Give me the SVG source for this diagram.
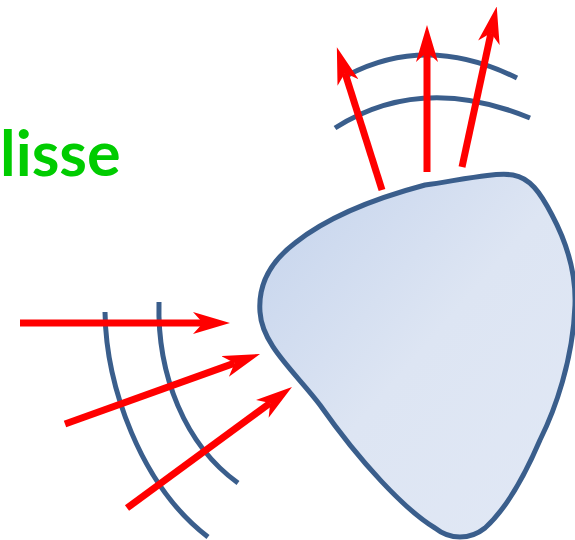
<svg xmlns="http://www.w3.org/2000/svg" width="575" height="540" viewBox="0 0 575 540">
<style>
.ray{fill:none;stroke:#ff0000;stroke-width:7;stroke-linecap:butt;marker-end:url(#head)}
.front{fill:none;stroke:#3a5e8c;stroke-width:5;stroke-linecap:butt}
.label{font-family:Lato,"Open Sans","Liberation Sans",sans-serif;font-weight:bold;font-size:63px;fill:#00cc00}
</style>
<defs>
<linearGradient id="g" x1="0" y1="0" x2="1" y2="1">
<stop offset="0" stop-color="#c4d3ec"/>
<stop offset="0.5" stop-color="#dde5f3"/>
<stop offset="1" stop-color="#e1e8f5"/>
</linearGradient>
<marker id="head" viewBox="0 0 37 22" refX="10" refY="11" markerWidth="37" markerHeight="22" markerUnits="userSpaceOnUse" orient="auto">
<path d="M0,0 L37,11 L0,22 L10,11 Z" fill="#ff0000"/>
</marker>
</defs>
<g id="label"><text class="label" x="0" y="176">lisse</text></g>
<g id="body">
<path d="M260,312 C258,285 270,262 295,243 C330,215 380,197 425,185 C460,180 495,172 513,175 C530,178 540,192 552,215 C568,245 576,275 575,305 C573,360 555,410 540,440 C525,475 505,510 485,528 C470,540 450,540 435,528 C405,510 360,462 320,405 C295,372 262,345 260,312 Z" fill="url(#g)" stroke="#3a5e8c" stroke-width="5"/>
</g>
<g id="wavefronts">
<path class="front" d="M348,75 Q427.5,33.5 517,78"/>
<path class="front" d="M335,128 Q421.5,73 530,118"/>
<path class="front" d="M105,312 C106,385 140,485 208,537"/>
<path class="front" d="M159,302 C157,375 185,445 238,483"/>
</g>
<g id="connectors">
<line class="ray" x1="382" y1="190" x2="345" y2="73"/>
<line class="ray" x1="427" y1="172" x2="427" y2="52"/>
<line class="ray" x1="462" y1="167" x2="491" y2="33"/>
<line class="ray" x1="20" y1="323" x2="203" y2="323"/>
<line class="ray" x1="65" y1="424" x2="234.6" y2="363.1"/>
<line class="ray" x1="127" y1="508" x2="270.2" y2="403"/>
</g>
</svg>
